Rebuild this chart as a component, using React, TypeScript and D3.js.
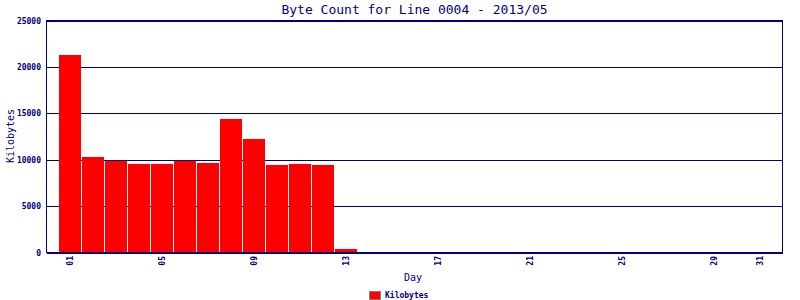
import React from "react";
import * as d3 from "d3";

const days: number[] = Array.from({ length: 31 }, (_, i) => i + 1);
const kilobytes: number[] = [
  21230, 10260, 9830, 9500, 9500, 9830, 9610, 14340, 12190, 9400, 9500, 9400, 360,
  0, 0, 0, 0, 0, 0, 0, 0, 0, 0, 0, 0, 0, 0, 0, 0, 0, 0,
];
const xTickDays: number[] = [1, 5, 9, 13, 17, 21, 25, 29, 31];
const yTicks: number[] = [0, 5000, 10000, 15000, 20000, 25000];
const title = "Byte Count for Line 0004 - 2013/05";
const seriesName = "Kilobytes";

const W = 800;
const H = 300;
const left = 46.5;
const right = 782.5;
const top = 20.5;
const bottom = 252.5;
const navy = "#000080";
const mono = "'DejaVu Sans Mono', 'Liberation Mono', monospace";

export default function App() {
  const x = d3.scaleLinear().domain([0, 32]).range([left, right]);
  const y = d3.scaleLinear().domain([0, 25000]).range([bottom, top]);
  const step = x(1) - x(0);
  const barW = step - 1;

  return (
    <svg
      width={W}
      height={H}
      style={{ position: "absolute", left: 0, top: 0, background: "#fff" }}
    >
      <rect x={0} y={0} width={W} height={H} fill="#fff" />
      <text
        x={(left + right) / 2 + 0}
        y={14}
        textAnchor="middle"
        fontFamily={mono}
        fontSize={13}
        fill={navy}
      >
        {title}
      </text>
      {yTicks.map((t) => (
        <g key={t}>
          <line
            x1={left}
            x2={right}
            y1={Math.round(y(t)) + 0.5}
            y2={Math.round(y(t)) + 0.5}
            stroke={navy}
            strokeWidth={1}
            shapeRendering="crispEdges"
          />
          <text
            x={41}
            y={y(t) + 3}
            textAnchor="end"
            fontFamily={mono}
            fontSize={8}
            fontWeight="bold"
            fill={navy}
          >
            {t}
          </text>
        </g>
      ))}
      {days.map((d, i) => {
        const v = kilobytes[i];
        if (v <= 0) return null;
        const cx = x(d);
        return (
          <rect
            key={d}
            x={Math.round(cx - barW / 2)}
            y={Math.round(y(v))}
            width={Math.round(barW)}
            height={Math.round(bottom) - Math.round(y(v))}
            fill="#ff0000"
            shapeRendering="crispEdges"
          />
        );
      })}
      <rect
        x={left}
        y={top}
        width={right - left}
        height={bottom - top}
        fill="none"
        stroke={navy}
        strokeWidth={1}
        shapeRendering="crispEdges"
      />
      {xTickDays.map((d) => (
        <text
          key={d}
          transform={`translate(${x(d) + 3},256) rotate(-90)`}
          textAnchor="end"
          fontFamily={mono}
          fontSize={8}
          fontWeight="bold"
          fill={navy}
        >
          {String(d).padStart(2, "0")}
        </text>
      ))}
      <text
        transform={`translate(14,136) rotate(-90)`}
        textAnchor="middle"
        fontFamily={mono}
        fontSize={10}
        fill={navy}
      >
        Kilobytes
      </text>
      <text
        x={413}
        y={281}
        textAnchor="middle"
        fontFamily={mono}
        fontSize={10}
        fill={navy}
      >
        Day
      </text>
      <rect
        x={369.5}
        y={291.5}
        width={11}
        height={8}
        fill="#ff0000"
        stroke="#808080"
        strokeWidth={1}
        shapeRendering="crispEdges"
      />
      <text
        x={385}
        y={298}
        fontFamily={mono}
        fontSize={8}
        fontWeight="bold"
        fill={navy}
      >
        {seriesName}
      </text>
    </svg>
  );
}
